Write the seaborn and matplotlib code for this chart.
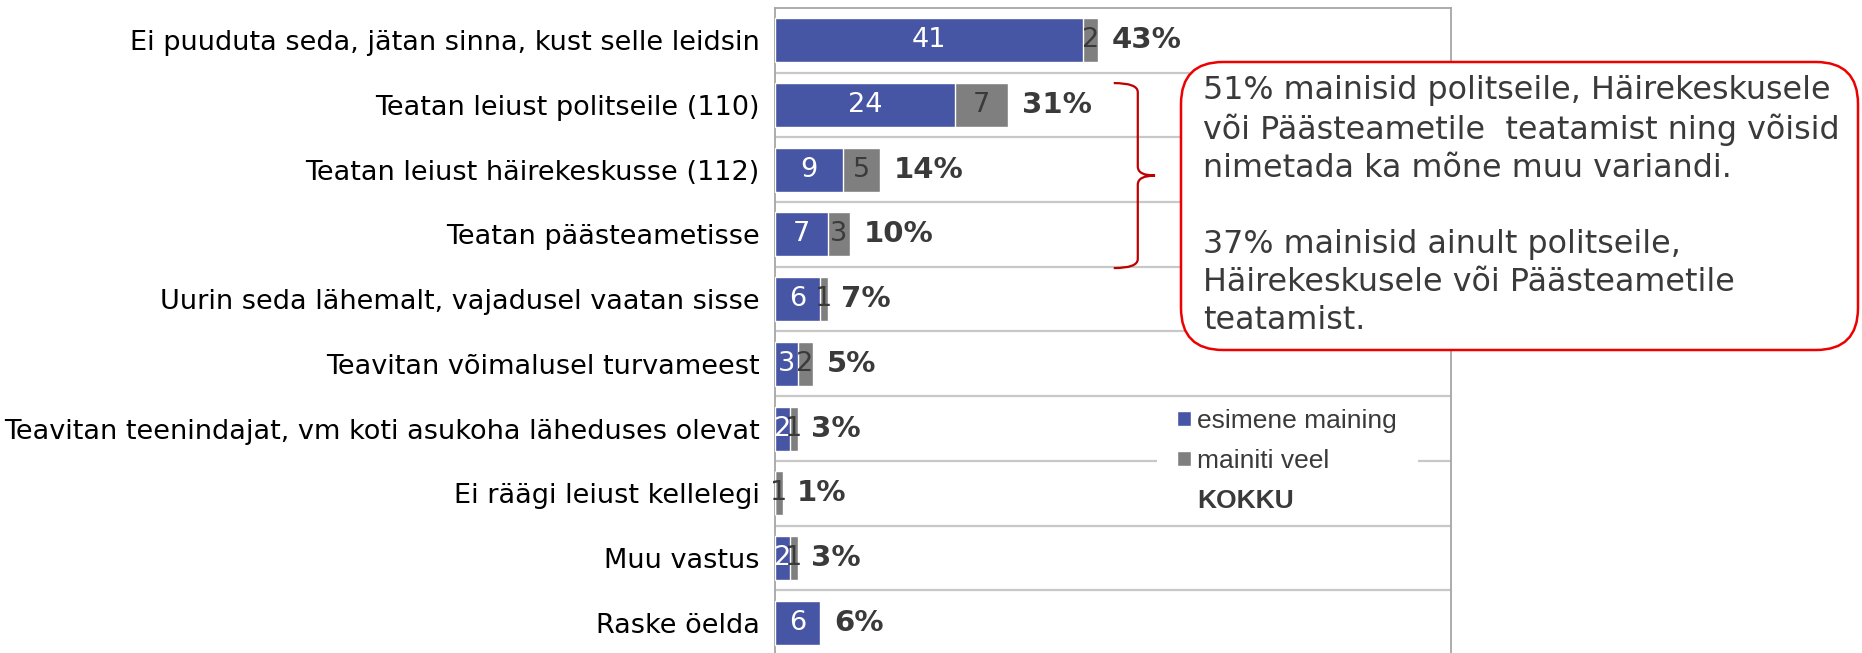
import pandas as pd
import seaborn as sns
import matplotlib.pyplot as plt
from matplotlib.patches import FancyBboxPatch, Patch, PathPatch, Rectangle
from matplotlib.path import Path

# data
categories = [
    "Ei puuduta seda, jätan sinna, kust selle leidsin",
    "Teatan leiust politseile (110)",
    "Teatan leiust häirekeskusse (112)",
    "Teatan päästeametisse",
    "Uurin seda lähemalt, vajadusel vaatan sisse",
    "Teavitan võimalusel turvameest",
    "Teavitan teenindajat, vm koti asukoha läheduses olevat",
    "Ei räägi leiust kellelegi",
    "Muu vastus",
    "Raske öelda",
]
first_mention = [41, 24, 9, 7, 6, 3, 2, 0, 2, 6]
also_mentioned = [2, 7, 5, 3, 1, 2, 1, 1, 1, 0]
total = [a + b for a, b in zip(first_mention, also_mentioned)]

series_names = ["esimene maining", "mainiti veel", "KOKKU"]
callout = ("51% mainisid politseile, Häirekeskusele\n"
           "või Päästeametile  teatamist ning võisid\n"
           "nimetada ka mõne muu variandi.\n\n"
           "37% mainisid ainult politseile,\n"
           "Häirekeskusele või Päästeametile\n"
           "teatamist.")

BLUE = "#4755a5"
GRAY = "#7f7f7f"
DARK = "#3a3a3a"

df = pd.DataFrame({"vastus": categories, "esimene": first_mention,
                   "veel": also_mentioned, "kokku": total})

sns.set_theme(style="white")
plt.rcParams["font.family"] = ["DejaVu Sans"]

fig = plt.figure(figsize=(18.62, 6.53), dpi=100)
ax = fig.add_axes([775 / 1862, -0.003, 676 / 1862, 0.9907])

# stacked bars: total in gray underneath, first mention in blue on top
sns.barplot(data=df, y="vastus", x="kokku", color=GRAY, saturation=1,
            width=0.68, errorbar=None, orient="h", ax=ax, zorder=2)
sns.barplot(data=df, y="vastus", x="esimene", color=BLUE, saturation=1,
            width=0.68, errorbar=None, orient="h", ax=ax, zorder=3)

ax.set_xlim(0, 90)
ax.set_ylim(len(categories) - 0.5, -0.5)
ax.set_xlabel("")
ax.set_ylabel("")
ax.set_xticks([])
ax.tick_params(axis="y", length=0, pad=11, labelsize=19.5, labelcolor="black")

for side in ["left", "top", "right", "bottom"]:
    ax.spines[side].set_color("#a6a6a6")
    ax.spines[side].set_linewidth(1.3)

for i in range(len(categories) - 1):
    ax.axhline(i + 0.5, color="#c8c8c8", lw=1.6, zorder=1)

# value labels
for i, (a, b, t) in enumerate(zip(first_mention, also_mentioned, total)):
    if a > 0:
        ax.text(a / 2, i, str(a), ha="center", va="center", color="white",
                fontsize=19.5, zorder=5)
    if b > 0:
        ax.text(a + b / 2, i, str(b), ha="center", va="center", color=DARK,
                fontsize=19.5, zorder=5)
    ax.annotate(f"{t}%", xy=(t, i), xytext=(10, 0), textcoords="offset points",
                ha="left", va="center", fontsize=21, fontweight="bold",
                color=DARK, zorder=5)

# curly brace grouping the reporting answers
verts = [(45.1, 0.66), (48.3, 0.66), (48.3, 0.80), (48.3, 0.95),
         (48.3, 1.95), (48.3, 2.09), (50.6, 2.09),
         (48.3, 2.09), (48.3, 2.23), (48.3, 3.23),
         (48.3, 3.38), (48.3, 3.52), (45.1, 3.52)]
codes = [Path.MOVETO, Path.CURVE3, Path.CURVE3, Path.LINETO,
         Path.LINETO, Path.CURVE3, Path.CURVE3,
         Path.CURVE3, Path.CURVE3, Path.LINETO,
         Path.LINETO, Path.CURVE3, Path.CURVE3]
ax.add_patch(PathPatch(Path(verts, codes), fill=False, edgecolor="#c00000",
                       lw=1.6, clip_on=False, zorder=6))

# callout box
box = FancyBboxPatch((11.81, 3.03), 6.77, 2.88,
                     boxstyle="round,pad=0,rounding_size=0.42",
                     transform=fig.dpi_scale_trans, facecolor="white",
                     edgecolor="#ee0000", lw=1.8, zorder=3)
fig.patches.append(box)
fig.text(12.03, 5.78, callout, transform=fig.dpi_scale_trans,
         ha="left", va="top", fontsize=22.9, color=DARK, linespacing=1.29,
         zorder=4)

# legend on a white background patch
fig.patches.append(Rectangle((11.57, 1.31), 2.61, 1.22,
                             transform=fig.dpi_scale_trans, facecolor="white",
                             edgecolor="none", zorder=3))
handles = [Patch(facecolor=BLUE), Patch(facecolor=GRAY),
           Patch(facecolor="none", edgecolor="none")]
leg = fig.legend(handles, series_names, loc="center left",
                 bbox_to_anchor=(1177 / 1862, 1 - 461 / 653),
                 frameon=False, handlelength=0.53, handleheight=0.5,
                 handletextpad=0.23, labelspacing=0.62, borderpad=0,
                 borderaxespad=0,
                 prop={"family": "Liberation Sans", "size": 19})
for txt in leg.get_texts():
    txt.set_color(DARK)
leg.get_texts()[2].set_fontweight("bold")
leg.set_zorder(6)

fig.savefig("out.png", dpi=100)
